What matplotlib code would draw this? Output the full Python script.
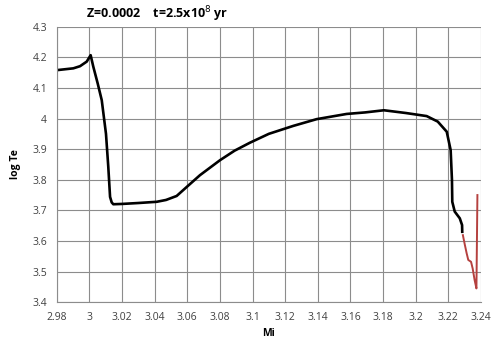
import matplotlib
matplotlib.use("Agg")
import matplotlib.pyplot as plt

# Black track (Mi, log Te)
mi_black = [2.98, 2.9902, 2.9943, 2.9984, 3.0008, 3.0024, 3.0051, 3.0076, 3.0102, 3.0116, 3.0127, 3.0137, 3.0147,
            3.02, 3.03, 3.0413, 3.047, 3.0535, 3.06, 3.0678, 3.0801, 3.089, 3.0984, 3.11, 3.125, 3.1393,
            3.1577, 3.169, 3.1805, 3.194, 3.2067, 3.2135, 3.219, 3.2214, 3.2222, 3.2224, 3.2239, 3.2270,
            3.2284, 3.2285]
te_black = [4.158, 4.164, 4.171, 4.186, 4.207, 4.17, 4.115, 4.06, 3.95, 3.843, 3.744, 3.726, 3.720,
            3.721, 3.724, 3.728, 3.734, 3.747, 3.778, 3.815, 3.864, 3.895, 3.921, 3.95, 3.976, 3.998,
            4.015, 4.02, 4.027, 4.018, 4.008, 3.99, 3.957, 3.897, 3.80, 3.728, 3.696, 3.674,
            3.652, 3.630]

# Red track
mi_red = [3.2289, 3.2300, 3.2312, 3.2322, 3.2339, 3.2349, 3.2361, 3.2372, 3.2378]
te_red = [3.619, 3.590, 3.560, 3.538, 3.532, 3.510, 3.472, 3.445, 3.750]

title = "Z=0.0002    t=2.5x10$^{8}$ yr"
xticks = [2.98, 3.0, 3.02, 3.04, 3.06, 3.08, 3.1, 3.12, 3.14, 3.16, 3.18, 3.2, 3.22, 3.24]
xticklabels = ["2.98", "3", "3.02", "3.04", "3.06", "3.08", "3.1", "3.12", "3.14", "3.16",
               "3.18", "3.2", "3.22", "3.24"]
yticks = [3.4, 3.5, 3.6, 3.7, 3.8, 3.9, 4.0, 4.1, 4.2, 4.3]
yticklabels = ["3.4", "3.5", "3.6", "3.7", "3.8", "3.9", "4", "4.1", "4.2", "4.3"]

plt.rcParams['font.family'] = ['Open Sans', 'DejaVu Sans']

fig = plt.figure(figsize=(5, 3.5), dpi=100)
ax = fig.add_axes([0.1134, 0.1366, 0.8486, 0.7871])

ax.plot(mi_black, te_black, color="black", lw=1.9, solid_joinstyle="round")
ax.plot(mi_red, te_red, color="#b5413f", lw=1.4, solid_joinstyle="round")

ax.set_xlim(2.98, 3.24)
ax.set_ylim(3.4, 4.3)
ax.set_xticks(xticks)
ax.set_xticklabels(xticklabels)
ax.set_yticks(yticks)
ax.set_yticklabels(yticklabels)
ax.grid(True, color="#8c8c8c", lw=0.8)
ax.set_axisbelow(True)
ax.tick_params(length=0, labelsize=7.5, colors="#404040", pad=7)

for side in ["top", "right"]:
    ax.spines[side].set_visible(False)
for side in ["left", "bottom"]:
    ax.spines[side].set_color("#8c8c8c")
    ax.spines[side].set_linewidth(0.8)

ax.set_xlabel("Mi", fontsize=7.5, fontweight="bold", labelpad=4)
ax.set_ylabel("log Te", fontsize=7.5, fontweight="bold", labelpad=8)
fig.text(0.315, 0.96, title, fontsize=9, fontweight="bold", ha="center", va="center")

fig.savefig("out.png", dpi=100)
